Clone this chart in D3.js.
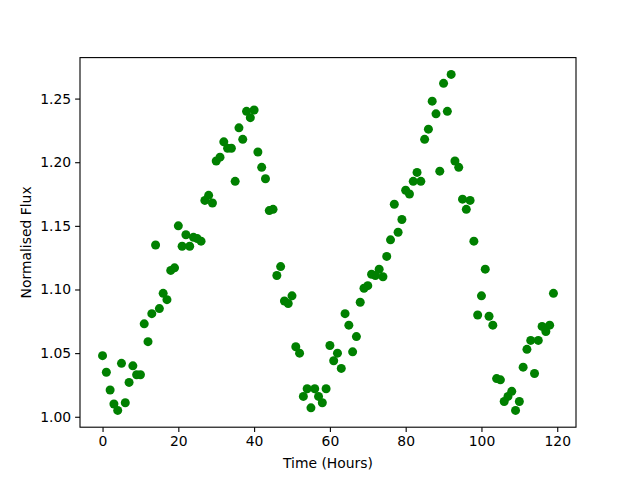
<!DOCTYPE html>
<html>
<head>
<meta charset="utf-8">
<script src="https://cdn.jsdelivr.net/npm/d3@7"></script>
<style>
  body { margin: 0; background: #fff; }
  svg { display: block; font-family: "DejaVu Sans", sans-serif; }
</style>
</head>
<body>
<script>
// hours 0..119, one reading per hour
const hours = d3.range(0, 120);
const flux = [
  1.048, 1.035, 1.021, 1.010, 1.005, 1.042, 1.011, 1.027, 1.040, 1.033,
  1.033, 1.073, 1.059, 1.081, 1.135, 1.085, 1.097, 1.092, 1.115, 1.117,
  1.150, 1.134, 1.143, 1.134, 1.141, 1.140, 1.138, 1.170, 1.174, 1.168,
  1.201, 1.204, 1.216, 1.211, 1.211, 1.185, 1.227, 1.218, 1.240, 1.235,
  1.241, 1.208, 1.196, 1.187, 1.162, 1.163, 1.111, 1.118, 1.091, 1.089,
  1.095, 1.055, 1.050, 1.016, 1.022, 1.007, 1.022, 1.016, 1.011, 1.022,
  1.056, 1.044, 1.050, 1.038, 1.081, 1.072, 1.051, 1.063, 1.090, 1.101,
  1.103, 1.112, 1.111, 1.116, 1.110, 1.126, 1.139, 1.167, 1.145, 1.155,
  1.178, 1.175, 1.185, 1.192, 1.185, 1.218, 1.226, 1.248, 1.238, 1.193,
  1.262, 1.240, 1.269, 1.201, 1.196, 1.171, 1.163, 1.170, 1.138, 1.080,
  1.095, 1.116, 1.079, 1.072, 1.030, 1.029, 1.012, 1.016, 1.020, 1.005,
  1.012, 1.039, 1.053, 1.060, 1.034, 1.060, 1.071, 1.067, 1.072, 1.097
];
const xTicks = [0, 20, 40, 60, 80, 100, 120];
const yTicks = [1.00, 1.05, 1.10, 1.15, 1.20, 1.25];

const W = 640, H = 480;
const margin = { top: 57.6, right: 64, bottom: 52.8, left: 80 };
const iw = W - margin.left - margin.right;
const ih = H - margin.top - margin.bottom;

// matplotlib-style 5% padding
function padded(ext) {
  const d = (ext[1] - ext[0]) * 0.05;
  return [ext[0] - d, ext[1] + d];
}

const x = d3.scaleLinear().domain(padded(d3.extent(hours))).range([0, iw]);
const y = d3.scaleLinear().domain(padded(d3.extent(flux))).range([ih, 0]);

const svg = d3.select('body').append('svg')
  .attr('width', W)
  .attr('height', H);

const g = svg.append('g')
  .attr('transform', `translate(${margin.left},${margin.top})`);

g.selectAll('circle')
  .data(hours)
  .enter().append('circle')
  .attr('cx', (d, i) => x(d))
  .attr('cy', (d, i) => y(flux[i]))
  .attr('r', 4.5)
  .attr('fill', '#008000');

const xAxis = g.append('g')
  .attr('transform', `translate(0,${ih})`)
  .call(d3.axisBottom(x).tickValues(xTicks).tickSize(4.9).tickPadding(4).tickFormat(d3.format('d')));

const yAxis = g.append('g')
  .call(d3.axisLeft(y).tickValues(yTicks).tickSize(4.9).tickPadding(4).tickFormat(d3.format('.2f')));

[xAxis, yAxis].forEach(a => {
  a.select('.domain').remove();
  a.selectAll('line').attr('stroke', '#000').attr('stroke-width', 1.1);
  a.selectAll('text').attr('font-size', 13.9).attr('fill', '#000')
    .attr('font-family', '"DejaVu Sans", sans-serif');
});

// frame
g.append('rect')
  .attr('width', iw)
  .attr('height', ih)
  .attr('fill', 'none')
  .attr('stroke', '#000')
  .attr('stroke-width', 1.1);

svg.append('text')
  .attr('x', margin.left + iw / 2)
  .attr('y', 468)
  .attr('text-anchor', 'middle')
  .attr('font-size', 13.9)
  .text('Time (Hours)');

svg.append('text')
  .attr('transform', `translate(31,${margin.top + ih / 2}) rotate(-90)`)
  .attr('text-anchor', 'middle')
  .attr('font-size', 13.9)
  .text('Normalised Flux');
</script>
</body>
</html>
